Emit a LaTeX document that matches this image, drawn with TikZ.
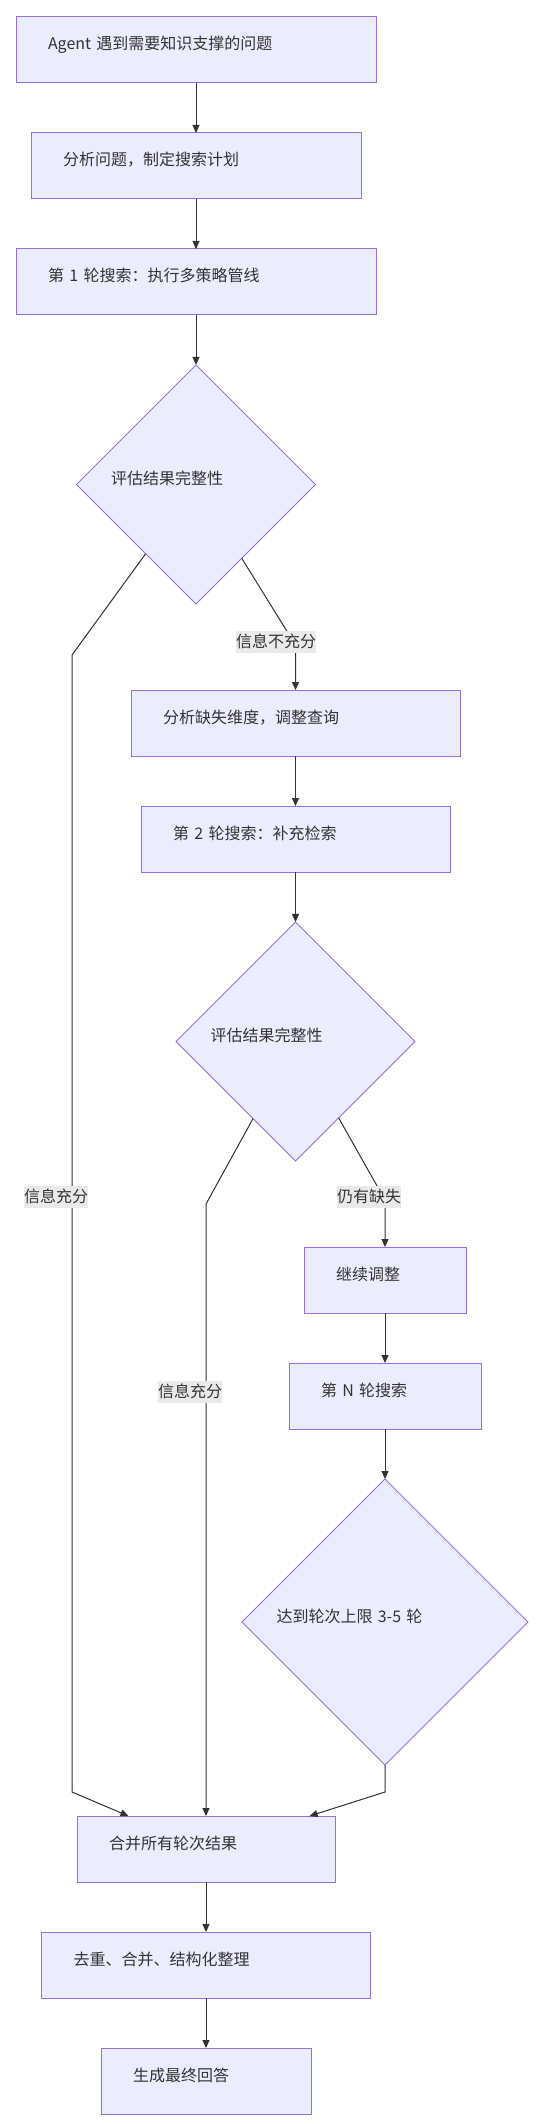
\documentclass[tikz,border=0pt]{standalone}
\usepackage{fontspec}
\setmainfont{Noto Sans CJK SC}
\usetikzlibrary{shapes.geometric, arrows.meta, positioning}
\definecolor{nodefill}{HTML}{ECECFF}
\definecolor{nodeline}{HTML}{9370DB}
\definecolor{edgeline}{HTML}{333333}
\definecolor{labelbg}{HTML}{EAEAEA}
\definecolor{textcol}{HTML}{333333}
\tikzstyle{box} = [rectangle, draw=nodeline, fill=nodefill, line width=1pt, outer sep=0pt, minimum height=66pt, inner xsep=32pt, inner ysep=0pt, text height=14pt, text depth=14pt, align=left, text=textcol]
\tikzstyle{decision} = [diamond, aspect=1, draw=nodeline, fill=nodefill, line width=1pt, outer sep=0pt, inner sep=0pt, text height=14pt, text depth=14pt, align=left, text=textcol]
\tikzstyle{tag} = [fill=labelbg, inner xsep=0pt, inner ysep=1pt, text height=15pt, text depth=5pt, text=textcol]
\tikzstyle{arrow} = [line width=1pt, draw=edgeline, -{Triangle[length=8pt,width=7pt]}]

\begin{document}
\begin{tikzpicture}[x=1pt, y=-1pt, node distance=50pt, font=\fontsize{16pt}{19pt}\selectfont]
        \fill [white] (0,0) rectangle (537,2124);
        % Nodes
        \node (ask) [box, text width=296pt] at (196,50) {Agent 遇到需要知识支撑的问题};
        \node (plan) [box, text width=266pt, below=of ask] {分析问题，制定搜索计划};
        \node (round1) [box, text width=296pt, below=of plan] {第 1 轮搜索：执行多策略管线};
        \node (eval1) [decision, minimum size=239pt, text width=170pt, below=of round1] {评估结果完整性};
        \node (refine) [box, text width=265pt, below=86pt of eval1, xshift=99.5pt] {分析缺失维度，调整查询};
        \node (round2) [box, text width=245pt, below=of refine] {第 2 轮搜索：补充检索};
        \node (eval2) [decision, minimum size=239pt, text width=170pt, below=of round2] {评估结果完整性};
        \node (adjust) [box, text width=98pt, below=86pt of eval2, xshift=89.5pt] {继续调整};
        \node (roundN) [box, text width=128pt, below=of adjust] {第 N 轮搜索};
        \node (limit) [decision, minimum size=286pt, text width=217pt, below=of roundN] {达到轮次上限 3-5 轮};
        \node (merge) [box, text width=194pt, below=51pt of limit, xshift=-179pt] {合并所有轮次结果};
        \node (dedupe) [box, text width=265pt, below=of merge] {去重、合并、结构化整理};
        \node (answer) [box, text width=146pt, below=of dedupe] {生成最终回答};

        % Bends
        \coordinate (leftTop) at (72,655);
        \coordinate (leftBot) at (72,1792);
        \coordinate (missBend) at (295.5,645);
        \coordinate (midBend) at (206,1204);
        \coordinate (stillBend) at (385,1200);
        \coordinate (limitBend) at (385,1792);

        % Arrows
        \draw [arrow] (ask) -- (plan);
        \draw [arrow] (plan) -- (round1);
        \draw [arrow] (round1) -- (eval1);
        \draw [arrow] (eval1) -- (missBend) -- (refine);
        \draw [arrow] (eval1) -- (leftTop) -- (leftBot) -- (merge);
        \draw [arrow] (refine) -- (round2);
        \draw [arrow] (round2) -- (eval2);
        \draw [arrow] (eval2) -- (stillBend) -- (adjust);
        \draw [arrow] (eval2) -- (midBend) -- (merge);
        \draw [arrow] (adjust) -- (roundN);
        \draw [arrow] (roundN) -- (limit);
        \draw [arrow] (limit.south) -- (limitBend) -- (merge);
        \draw [arrow] (merge) -- (dedupe);
        \draw [arrow] (dedupe) -- (answer);

        % Edge labels
        \node (lackTag) [tag] at (276,642) {信息不充分};
        \node (enoughTagA) [tag] at (56,1197) {信息充分};
        \node (stillTag) [tag] at (369,1197) {仍有缺失};
        \node (enoughTagB) [tag] at (190,1392) {信息充分};
    \end{tikzpicture}
\end{document}
